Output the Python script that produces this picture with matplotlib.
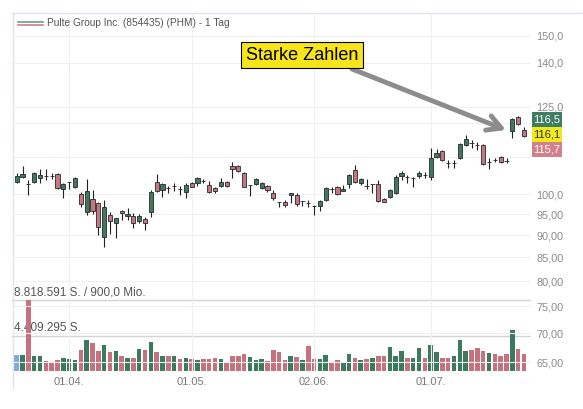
import numpy as np
import matplotlib.pyplot as plt
from matplotlib.lines import Line2D
from matplotlib.patches import Rectangle
from matplotlib.ticker import NullLocator, NullFormatter

plt.rcParams['font.family'] = ['Liberation Sans', 'DejaVu Sans']

W, H = 583, 409

# Tageskerzen Pulte Group (Open / High / Low / Close)
opens = [103.12, 104.46, 102.7, 103.12, 104.19, 104.8, 104.8, 105.26, 101.29, 103.0,
         101.81, 100.0, 95.49, 98.73, 97.72, 89.57, 94.76, 92.84, 95.73, 94.51,
         94.51, 93.31, 93.79, 95.49, 103.12, 101.03, 101.6, 102.0, 101.3, 100.51,
         102.86, 102.86, 103.4, 102.33, 101.55, 102.07, 103.12, 107.45, 107.45, 105.53,
         102.3, 102.6, 101.55, 102.07, 100.26, 97.99, 97.97, 99.74, 99.74, 98.2,
         97.75, 97.0, 96.97, 98.47, 101.3, 101.81, 100.77, 102.6, 106.35, 102.86,
         102.1, 102.58, 102.6, 98.73, 99.23, 100.26, 104.72, 104.5, 104.15, 104.72,
         105.0, 104.46, 109.95, 111.66, 108.3, 108.25, 109.67, 113.39, 114.0, 113.4,
         113.39, 108.5, 109.15, 109.95, 108.85, 117.53, 121.81, 117.83]
highs = [105.53, 107.45, 103.66, 105.8, 106.62, 106.62, 105.53, 105.53, 102.86, 103.2,
         104.46, 100.51, 103.92, 101.03, 97.97, 98.47, 95.49, 94.1, 95.98, 96.47,
         95.24, 95.0, 94.27, 101.03, 105.26, 102.86, 102.07, 102.86, 102.07, 102.86,
         103.12, 104.46, 103.92, 103.39, 101.81, 104.19, 103.39, 108.55, 107.72, 105.8,
         102.4, 104.19, 103.12, 102.33, 101.03, 98.0, 98.47, 100.3, 100.26, 98.25,
         98.47, 97.22, 98.47, 101.81, 101.81, 102.07, 102.33, 105.26, 107.72, 104.19,
         103.92, 102.65, 103.66, 98.98, 101.29, 104.99, 106.08, 104.99, 104.46, 106.08,
         105.8, 112.52, 112.24, 111.95, 109.11, 109.11, 113.97, 116.33, 114.9, 114.27,
         113.68, 109.67, 109.67, 110.24, 109.67, 121.5, 122.12, 118.74]
lows = [102.86, 104.3, 99.74, 102.86, 102.86, 103.66, 103.92, 101.29, 98.98, 101.29,
        101.55, 96.72, 94.76, 95.0, 90.03, 87.32, 90.26, 89.34, 93.55, 93.55,
        91.66, 92.84, 91.19, 94.27, 100.51, 99.23, 100.26, 100.77, 99.74, 98.98,
        101.7, 102.07, 102.86, 100.26, 100.26, 101.81, 101.81, 104.19, 105.8, 101.7,
        99.49, 102.33, 101.29, 100.51, 98.47, 96.72, 96.72, 97.72, 96.97, 96.97,
        96.72, 94.76, 95.73, 98.22, 100.26, 99.74, 100.7, 101.55, 102.86, 102.33,
        101.29, 100.26, 97.97, 97.9, 99.1, 100.1, 103.66, 102.86, 101.81, 104.19,
        104.19, 103.66, 109.67, 108.83, 106.9, 106.9, 109.4, 113.1, 112.52, 111.95,
        107.72, 106.62, 108.55, 108.28, 108.28, 115.44, 119.35, 115.74]
closes = [104.72, 105.26, 102.5, 105.53, 104.99, 104.65, 104.7, 101.55, 102.6, 103.12,
          104.19, 97.47, 100.77, 95.73, 91.89, 96.72, 93.31, 94.03, 95.24, 95.0,
          92.84, 94.51, 92.84, 100.51, 100.77, 102.6, 101.5, 102.1, 101.25, 102.33,
          101.81, 104.19, 103.35, 100.51, 100.77, 103.12, 102.07, 106.62, 106.08, 101.81,
          102.33, 103.92, 102.86, 101.03, 98.98, 97.97, 97.22, 100.26, 97.47, 98.22,
          97.7, 96.95, 98.22, 101.55, 101.25, 100.0, 101.29, 104.99, 103.12, 103.92,
          102.05, 102.6, 98.22, 97.97, 101.03, 104.46, 105.53, 104.45, 104.2, 105.53,
          104.95, 109.67, 111.09, 109.11, 108.25, 108.3, 113.68, 115.15, 113.95, 113.35,
          108.0, 108.55, 109.1, 108.55, 108.8, 121.19, 119.65, 116.1]
# Umsatz in Mio. Stück
volumes = [2.03, 2.03, 8.82, 1.83, 1.90, 1.20, 1.12, 1.33, 1.61, 1.49,
           1.40, 2.65, 3.89, 3.48, 2.48, 3.27, 2.36, 2.52, 1.83, 1.65,
           1.61, 2.77, 2.57, 3.60, 2.36, 1.83, 1.83, 1.83, 1.45, 1.65,
           1.53, 1.40, 1.49, 1.49, 1.61, 1.49, 1.08, 1.83, 1.83, 2.15,
           1.74, 1.33, 1.49, 1.24, 2.65, 2.30, 1.33, 1.89, 1.74, 1.40,
           3.07, 1.45, 1.53, 1.99, 1.12, 1.33, 0.99, 2.11, 1.65, 1.33,
           1.49, 1.65, 1.86, 1.83, 2.98, 1.90, 2.48, 1.61, 1.65, 2.89,
           1.58, 3.27, 2.40, 1.58, 1.65, 1.86, 3.81, 2.48, 2.61, 2.86,
           2.48, 2.27, 2.07, 1.90, 2.11, 5.13, 2.73, 2.07]

date_pos = [9, 30, 51, 71]
date_labels = ['01.04.', '01.05.', '02.06.', '01.07.']
price_ticks = [65, 70, 75, 80, 85, 90, 95, 100, 125, 140, 150]
price_labels = ['65,00', '70,00', '75,00', '80,00', '85,00', '90,00', '95,00',
                '100,0', '125,0', '140,0', '150,0']
grid_extra = [110, 120]  # Linien hinter den Kursmarken
vol_max = 8818591
tags = [('116,5', '#3f7d62', 'white'), ('116,1', '#f0ea1a', '#333333'), ('115,7', '#d3808d', 'white')]

GREEN = '#3d7a5f'
RED = '#c47682'

opens = np.array(opens)
closes = np.array(closes)
x = np.arange(len(opens))
up = closes >= opens
cols = np.where(up, GREEN, RED)

fig = plt.figure(figsize=(W / 100, H / 100), dpi=100)
# Achsenbereich in Pixeln: x 12..531, y 13..371
ax = fig.add_axes([12 / W, 1 - 371 / H, (531 - 12) / W, (371 - 13) / H])
axv = ax.twinx()
ax.set_zorder(2)
ax.patch.set_visible(False)
axv.set_zorder(1)

ax.set_yscale('log')
ax.set_xlim(-0.81, 88.2)
ax.set_ylim(63.52, 159.06)

# Kerzen
ax.vlines(x, lows, highs, color='#222222', lw=0.8, zorder=2)
ax.bar(x, np.maximum(np.abs(closes - opens), 0.02), bottom=np.minimum(opens, closes),
       width=0.72, color=cols, edgecolor='#2a2a2a', linewidth=0.6, zorder=3)

ax.yaxis.tick_right()
ax.set_yticks(price_ticks)
ax.set_yticklabels(price_labels)
ax.yaxis.set_minor_locator(NullLocator())
ax.yaxis.set_minor_formatter(NullFormatter())
ax.tick_params(axis='y', length=0, pad=4, labelsize=7.8, labelcolor='#8a8a8a')
ax.set_xticks(date_pos)
ax.set_xticklabels(date_labels)
ax.tick_params(axis='x', length=0, pad=4, labelsize=8, labelcolor='#7a7a7a')
ax.grid(True, color='#f0f0f0', lw=0.8)
for g in grid_extra:
    ax.axhline(g, color='#f0f0f0', lw=0.8, zorder=0)
ax.set_axisbelow(True)
for s in ax.spines.values():
    s.set_visible(False)

# Umsatz
vcols = list(np.where(up, '#3b7a5e', '#c6727e'))
vcols[0] = '#7ea9dd'
axv.bar(x, np.array(volumes) * 1e6, width=0.78, color=vcols, zorder=3)
axv.set_ylim(0, vol_max * (371 - 13) / 71)
axv.set_yticks([])
for s in axv.spines.values():
    s.set_visible(False)
axv.axhline(vol_max, color='#d4d4d4', lw=1.0, zorder=1)
axv.axhline(vol_max / 2, color='#d4d4d4', lw=1.0, zorder=1)
axv.text(-0.45, vol_max * 1.02, '8.818.591 S. / 900,0 Mio.', fontsize=8.5, color='#555555',
         va='bottom', ha='left', zorder=1)
axv.text(-0.45, vol_max / 2 * 1.03, '4.409.295 S.', fontsize=8.5, color='#555555',
         va='bottom', ha='left', zorder=1)

# Rahmen und Titelzeile
fig.add_artist(Line2D([12.5 / W, 12.5 / W], [1 - 13 / H, 1 - 388 / H], color='#dde4ec', lw=1))
fig.add_artist(Line2D([12 / W, 1], [1 - 13 / H, 1 - 13 / H], color='#dde4ec', lw=1))
fig.add_artist(Line2D([18 / W, 43 / W], [1 - 21.5 / H, 1 - 21.5 / H], color='#6f9c86', lw=1.2))
fig.add_artist(Line2D([18 / W, 43 / W], [1 - 24.5 / H, 1 - 24.5 / H], color='#c9808a', lw=1.2))
fig.text(47 / W, 1 - 23 / H, 'Pulte Group Inc. (854435) (PHM) - 1 Tag', fontsize=7.3,
         color='#555555', va='center', ha='left')

# Kursmarken rechts
for k, (txt, fc, tc) in enumerate(tags):
    y0 = 112 + 15 * k
    fig.add_artist(Rectangle((532 / W, 1 - (y0 + 15) / H), 30 / W, 15 / H,
                             transform=fig.transFigure, fc=fc, ec='none', zorder=5))
    fig.text(547 / W, 1 - (y0 + 7.5) / H, txt, fontsize=8, color=tc, ha='center',
             va='center', zorder=6)

# Hinweis
fig.text(302 / W, 1 - 55 / H, 'Starke Zahlen', fontsize=13, color='black', ha='center',
         va='center', bbox=dict(boxstyle='square,pad=0.25', fc='#f7e51a', ec='black', lw=0.8))
ax.annotate('', xy=(506, H - 130), xytext=(352, H - 69), xycoords='figure pixels',
            textcoords='figure pixels',
            arrowprops=dict(arrowstyle='->,head_length=1.0,head_width=0.55',
                            color='#8c8c8c', lw=3.5, shrinkA=0, shrinkB=0))

fig.savefig('out.png', dpi=100)
